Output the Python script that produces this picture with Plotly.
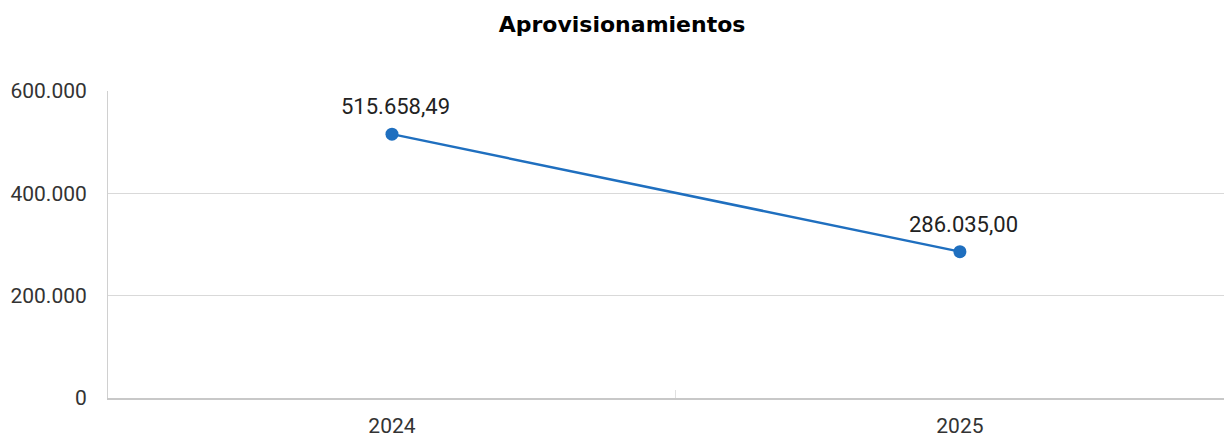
import plotly.graph_objects as go

years = ["2024", "2025"]
values = [515658.49, 286035.00]
y_ticks = [0, 200000, 400000, 600000]


def fmt_es(v):
    s = f"{v:,.2f}"
    return s.replace(",", "X").replace(".", ",").replace("X", ".")


fig = go.Figure()
fig.add_trace(go.Scatter(
    x=years, y=values,
    mode="lines+markers",
    line=dict(color="#1f6fbf", width=2.5),
    marker=dict(size=13, color="#1f6fbf"),
    cliponaxis=False,
    hoverinfo="skip",
))
for i, v in enumerate(values):
    fig.add_annotation(
        x=i, y=v, xref="x", yref="y", text=fmt_es(v), showarrow=False,
        xanchor="center", yanchor="bottom", yshift=13, xshift=4,
        font=dict(family="Roboto", size=22, color="#222222"),
    )

fig.update_layout(
    width=1216, height=430,
    margin=dict(l=100, r=0, t=83, b=40),
    paper_bgcolor="white", plot_bgcolor="white",
    separators=",.",
    showlegend=False,
    title=dict(text="<b>Aprovisionamientos</b>", x=0.505, xanchor="center",
               y=0.963, yanchor="middle",
               font=dict(family="DejaVu Sans", size=22, color="#000000")),
    font=dict(family="Roboto", size=21, color="#333333"),
)
fig.update_xaxes(
    type="category", range=[-0.5, 1.465],
    showline=True, linecolor="#c8c8c8", linewidth=2,
    showgrid=False, ticks="inside", tickson="boundaries",
    ticklen=8, tickcolor="#e0e0e0", tickwidth=1,
    tickfont=dict(family="Roboto", size=21, color="#333333"),
    ticklabelstandoff=8,
)
fig.update_yaxes(
    range=[0, 600000], tickvals=y_ticks, tickformat=",d",
    showline=True, linecolor="#d0d0d0", linewidth=1,
    showgrid=True, gridcolor="#d9d9d9", gridwidth=1,
    zeroline=False, ticks="", ticklabelstandoff=16,
    tickfont=dict(family="Roboto", size=21, color="#333333"),
)
fig.write_html("out.html")
